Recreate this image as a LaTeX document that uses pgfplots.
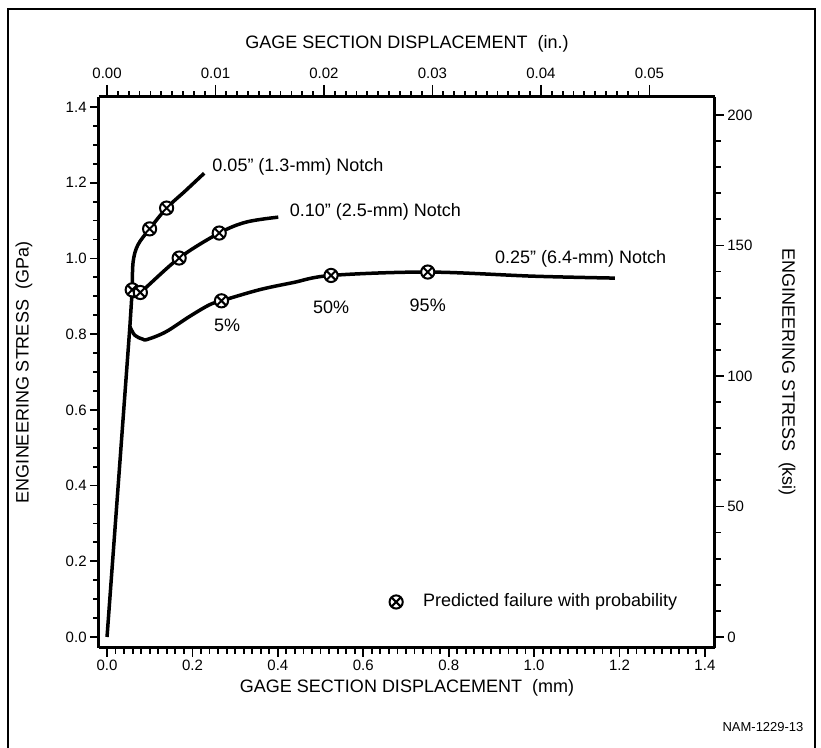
\documentclass[border=0pt]{standalone}
\usepackage{pgfplots}
\pgfplotsset{compat=1.18}
\usepackage{fontspec}
\setmainfont{Liberation Sans}

\pgfplotsset{
  commonax/.style={
    at={(49.5pt,50pt)}, anchor=south west,
    scale only axis, width=308pt, height=275.5pt,
    axis line style={line width=1.5pt,-},
    tick align=outside,
    major tick length=4.5pt, minor tick length=2.8pt,
    tick style={line width=0.9pt,black},
    tick label style={font=\fontsize{7.5}{9}\selectfont,inner sep=1.5pt},
    label style={font=\fontsize{9}{10}\selectfont},
    scaled x ticks=false, scaled y ticks=false,
    clip=false,
  },
  curve/.style={line width=1.75pt,black,smooth,tension=0.55},
  fail/.style={only marks,mark=otimes*,mark size=3.3pt,
    mark options={fill=white,draw=black,line width=1pt}},
}

\begin{document}
\begin{tikzpicture}[x=0.5pt,y=0.5pt]
\useasboundingbox (0,0) rectangle (821,748);
\draw[line width=1pt] (8,0) -- (8,739) -- (815,739) -- (815,0);

\begin{axis}[commonax,
  xmin=-0.0188, xmax=1.4236, ymin=-0.029, ymax=1.4264,
  axis x line*=bottom, axis y line*=left,
  xtick={0,0.2,0.4,0.6,0.8,1.0,1.2,1.4},
  xticklabels={0.0,0.2,0.4,0.6,0.8,1.0,1.2,1.4},
  minor x tick num=9,
  ytick={0,0.2,0.4,0.6,0.8,1.0,1.2,1.4},
  yticklabels={0.0,0.2,0.4,0.6,0.8,1.0,1.2,1.4},
  minor y tick num=3,
  xlabel={GAGE SECTION DISPLACEMENT\ \ (mm)},
  ylabel={ENGINEERING STRESS\ \ (GPa)},
  xlabel style={at={(axis description cs:0.5,-0.072)},anchor=center},
  ylabel style={at={(axis description cs:-0.122,0.5)},anchor=center},
]
% elastic part
\addplot[line width=1.75pt,black] coordinates {(0,0) (0.0535,0.82) (0.059,0.917)};
% 0.05 in notch
\addplot[curve] coordinates {(0.059,0.917) (0.061,0.99) (0.072,1.035) (0.0997,1.078) (0.1395,1.133) (0.183,1.178) (0.2275,1.225)};
% 0.10 in notch
\addplot[curve] coordinates {(0.059,0.90) (0.078,0.910) (0.1689,1.001) (0.2627,1.067) (0.326,1.096) (0.401,1.109)};
% 0.25 in notch
\addplot[curve] coordinates {(0.0535,0.82) (0.065,0.797) (0.083,0.787) (0.0945,0.786) (0.1377,0.806) (0.1923,0.846) (0.239,0.877) (0.268,0.888) (0.356,0.917) (0.435,0.936) (0.5246,0.955) (0.751,0.964) (1.0,0.953) (1.189,0.948)};
% predicted failure points
\addplot[fail] coordinates {(0.059,0.917) (0.0997,1.078) (0.1395,1.133)};
\addplot[fail] coordinates {(0.078,0.910) (0.1689,1.001) (0.2627,1.067)};
\addplot[fail] coordinates {(0.268,0.888) (0.5246,0.955) (0.751,0.964)};
% legend marker
\addplot[fail] coordinates {(0.677,0.0925)};
\node[anchor=west,font=\fontsize{9}{10}\selectfont,inner sep=0pt] at (axis cs:0.739,0.0925) {Predicted failure with probability};
\node[anchor=west,font=\fontsize{9}{10}\selectfont,inner sep=0pt] at (axis cs:0.246,1.242) {0.05" (1.3-mm) Notch};
\node[anchor=west,font=\fontsize{9}{10}\selectfont,inner sep=0pt] at (axis cs:0.427,1.123) {0.10" (2.5-mm) Notch};
\node[anchor=west,font=\fontsize{9}{10}\selectfont,inner sep=0pt] at (axis cs:0.9076,0.998) {0.25" (6.4-mm) Notch};
\node[font=\fontsize{9}{10}\selectfont,inner sep=0pt] at (axis cs:0.281,0.822) {5\%};
\node[font=\fontsize{9}{10}\selectfont,inner sep=0pt] at (axis cs:0.5246,0.872) {50\%};
\node[font=\fontsize{9}{10}\selectfont,inner sep=0pt] at (axis cs:0.751,0.877) {95\%};
\end{axis}

\begin{axis}[commonax,
  xmin=-0.00074016, xmax=0.056047, ymin=-4.2061, ymax=206.88,
  axis x line*=top, axis y line*=right,
  major x tick style={/pgfplots/major tick length=6pt},
  xtick={0,0.01,0.02,0.03,0.04,0.05},
  xticklabels={0.00,0.01,0.02,0.03,0.04,0.05},
  xticklabel style={yshift=3pt},
  minor x tick num=9,
  ytick={0,50,100,150,200},
  yticklabels={0,50,100,150,200},
  minor y tick num=4,
  xlabel={GAGE SECTION DISPLACEMENT\ \ (in.)},
  ylabel={ENGINEERING STRESS\ \ (ksi)},
  xlabel style={at={(axis description cs:0.5,1.096)},anchor=center},
  ylabel style={at={(axis description cs:1.117,0.5)},anchor=center,rotate=180},
]
\end{axis}

\node[font=\fontsize{6.5}{7}\selectfont] at (763,21) {NAM-1229-13};
\end{tikzpicture}
\end{document}
